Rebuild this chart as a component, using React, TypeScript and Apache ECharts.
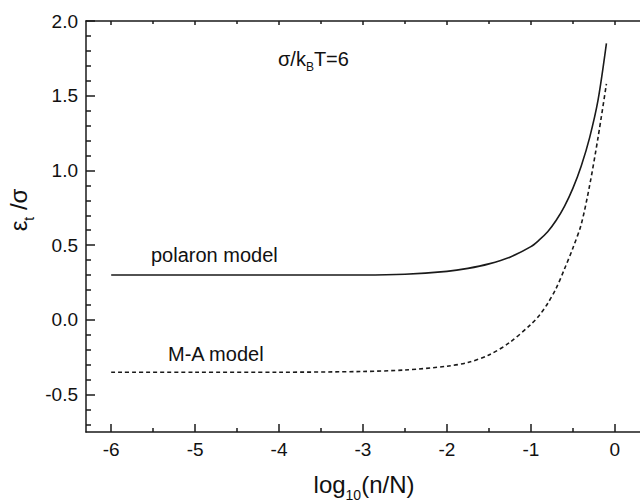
import React, { useEffect, useRef } from "react";
import * as echarts from "echarts";

const xMajorTicks = [-6, -5, -4, -3, -2, -1, 0];
const xMinorTicks = [-5.5, -4.5, -3.5, -2.5, -1.5, -0.5];
const yMajorTicks = [-0.5, 0, 0.5, 1, 1.5, 2];
const yMinorTicks = [
  -0.7, -0.6, -0.4, -0.3, -0.2, -0.1, 0.1, 0.2, 0.3, 0.4, 0.6, 0.7, 0.8, 0.9,
  1.1, 1.2, 1.3, 1.4, 1.6, 1.7, 1.8, 1.9,
];

const polaronX = [-6, -5, -4, -3, -2.5, -2, -1.75, -1.5, -1.25, -1, -0.9, -0.8, -0.7, -0.6, -0.5, -0.4, -0.3, -0.2, -0.1];
const polaronY = [0.3, 0.3, 0.3, 0.3, 0.305, 0.325, 0.345, 0.375, 0.42, 0.49, 0.535, 0.59, 0.665, 0.76, 0.88, 1.03, 1.22, 1.47, 1.85];

const maX = [-6, -5, -4, -3, -2.5, -2, -1.75, -1.5, -1.25, -1, -0.9, -0.8, -0.7, -0.6, -0.5, -0.4, -0.3, -0.2, -0.1];
const maY = [-0.35, -0.35, -0.35, -0.345, -0.335, -0.31, -0.285, -0.235, -0.15, -0.03, 0.03, 0.11, 0.21, 0.34, 0.48, 0.64, 0.9, 1.22, 1.58];

const FONT = "Liberation Sans";
const INK = "#1a1a1a";

export default function App() {
  const ref = useRef<HTMLDivElement>(null);
  useEffect(() => {
    if (!ref.current) return;
    const chart = echarts.init(ref.current, null, { renderer: "svg" });
    const axLine = { show: true, onZero: false, lineStyle: { color: INK, width: 1.5 } };
    const tickStyle = { color: INK, width: 1.5 };
    const xBase = { type: "value", min: -6.3, max: 0.3, gridIndex: 0, splitLine: { show: false } };
    const yBase = { type: "value", min: -0.75, max: 2.0, gridIndex: 0, splitLine: { show: false } };
    chart.setOption({
      animation: false,
      backgroundColor: "#ffffff",
      grid: { left: 86, top: 21, width: 556, height: 411, containLabel: false },
      xAxis: [
        {
          ...xBase,
          position: "bottom",
          axisLine: axLine,
          axisTick: { show: true, inside: true, length: 8, customValues: xMajorTicks, lineStyle: tickStyle },
          axisLabel: {
            show: true,
            customValues: xMajorTicks,
            formatter: (v: number) => String(v),
            fontSize: 19,
            color: "#111",
            fontFamily: FONT,
            margin: 8,
          },
        },
        {
          ...xBase,
          position: "bottom",
          axisLine: { show: false, onZero: false },
          axisTick: { show: true, inside: true, length: 4, customValues: xMinorTicks, lineStyle: tickStyle },
          axisLabel: { show: false },
        },
        {
          ...xBase,
          position: "top",
          axisLine: axLine,
          axisTick: { show: true, inside: true, length: 4, customValues: xMajorTicks, lineStyle: tickStyle },
          axisLabel: { show: false },
        },
        {
          ...xBase,
          position: "top",
          axisLine: { show: false, onZero: false },
          axisTick: { show: true, inside: true, length: 3, customValues: xMinorTicks, lineStyle: tickStyle },
          axisLabel: { show: false },
        },
      ],
      yAxis: [
        {
          ...yBase,
          position: "left",
          axisLine: axLine,
          axisTick: { show: true, inside: true, length: 9, customValues: yMajorTicks, lineStyle: tickStyle },
          axisLabel: {
            show: true,
            customValues: yMajorTicks,
            formatter: (v: number) => v.toFixed(1),
            fontSize: 19,
            color: "#111",
            fontFamily: FONT,
            margin: 8,
          },
        },
        {
          ...yBase,
          position: "left",
          axisLine: { show: false, onZero: false },
          axisTick: { show: true, inside: true, length: 5, customValues: yMinorTicks, lineStyle: tickStyle },
          axisLabel: { show: false },
        },
      ],
      series: [
        {
          name: "polaron model",
          type: "line",
          xAxisIndex: 0,
          yAxisIndex: 0,
          data: polaronX.map((x, i) => [x, polaronY[i]]),
          showSymbol: false,
          smooth: 0.3,
          lineStyle: { color: INK, width: 1.6 },
        },
        {
          name: "M-A model",
          type: "line",
          xAxisIndex: 0,
          yAxisIndex: 0,
          data: maX.map((x, i) => [x, maY[i]]),
          showSymbol: false,
          smooth: 0.3,
          lineStyle: { color: INK, width: 1.6, type: [4, 3] },
        },
      ],
      graphic: [
        {
          type: "text",
          x: 151,
          y: 255,
          style: { text: "polaron model", font: `20px "${FONT}"`, fill: "#111", align: "left", verticalAlign: "middle" },
        },
        {
          type: "text",
          x: 168,
          y: 354,
          style: { text: "M-A model", font: `20px "${FONT}"`, fill: "#111", align: "left", verticalAlign: "middle" },
        },
        {
          type: "text",
          x: 278,
          y: 49,
          style: {
            text: "{a|σ/k}{s|B}{a|T=6}",
            align: "left",
            verticalAlign: "top",
            rich: {
              a: { fontSize: 20, lineHeight: 24, fontFamily: FONT, fill: "#111", color: "#111", verticalAlign: "top" },
              s: { fontSize: 12, lineHeight: 12, fontFamily: FONT, fill: "#111", color: "#111", verticalAlign: "top", padding: [12, 0, 0, 0] },
            },
          },
        },
        {
          type: "text",
          x: 364,
          y: 472,
          style: {
            text: "{a|log}{s|10}{a|(n/N)}",
            align: "center",
            verticalAlign: "top",
            rich: {
              a: { fontSize: 24, lineHeight: 28, fontFamily: FONT, fill: "#111", color: "#111", verticalAlign: "top" },
              s: { fontSize: 14, lineHeight: 14, fontFamily: FONT, fill: "#111", color: "#111", verticalAlign: "top", padding: [16, 0, 0, 0] },
            },
          },
        },
        {
          type: "text",
          x: 6,
          y: 210,
          rotation: Math.PI / 2,
          style: {
            text: "{a|ε}{s|t}{a| /σ}",
            align: "center",
            verticalAlign: "top",
            rich: {
              a: { fontSize: 24, lineHeight: 28, fontFamily: FONT, fill: "#111", color: "#111", verticalAlign: "top" },
              s: { fontSize: 14, lineHeight: 14, fontFamily: FONT, fill: "#111", color: "#111", verticalAlign: "top", padding: [16, 0, 0, 0] },
            },
          },
        },
      ],
    });
    return () => chart.dispose();
  }, []);
  return (
    <div
      ref={ref}
      style={{ position: "fixed", left: 0, top: 0, width: 640, height: 502, background: "#fff" }}
    />
  );
}
